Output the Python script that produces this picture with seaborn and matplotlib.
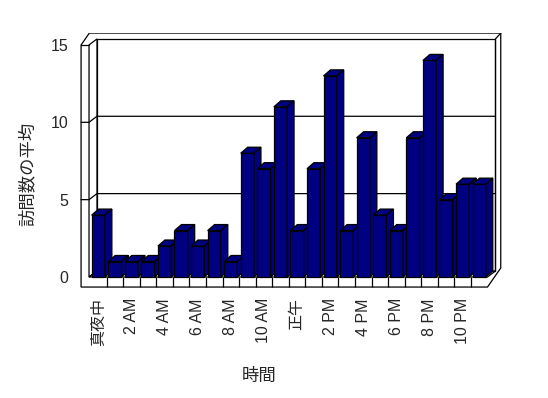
import numpy as np
import seaborn as sns
import matplotlib
matplotlib.use('Agg')
import matplotlib.pyplot as plt
from matplotlib.patches import Polygon

# data
hours = ['真夜中', '1 AM', '2 AM', '3 AM', '4 AM', '5 AM', '6 AM', '7 AM',
         '8 AM', '9 AM', '10 AM', '11 AM', '正午', '1 PM', '2 PM', '3 PM',
         '4 PM', '5 PM', '6 PM', '7 PM', '8 PM', '9 PM', '10 PM', '11 PM']
visits = [4, 1, 1, 1, 2, 3, 2, 3, 1, 8, 7, 11, 3, 7, 13, 3, 9, 4, 3, 9, 14, 5, 6, 6]
y_ticks = [0, 5, 10, 15]
shown_labels = hours[::2]

sns.set_style('white')
plt.rcParams['font.family'] = ['Liberation Sans', 'Noto Sans CJK JP', 'DejaVu Sans']

fig = plt.figure(figsize=(5.48, 3.98), dpi=100)
ax = fig.add_axes([0.1431, 0.2749, 0.7737, 0.6432])

navy = '#000080'
lw = 0.9
sns.barplot(x=hours, y=visits, color=navy, saturation=1, width=0.8,
            edgecolor='black', linewidth=lw, ax=ax)
bars = list(ax.patches)

# fake 3d depth of the bars, built from each bar's own geometry
dx, dy = 0.42, 0.39
for i, p in enumerate(bars):
    x, w, h = p.get_x(), p.get_width(), p.get_height()
    z = 3 + i * 0.01
    p.set_zorder(z)
    top = [(x, h), (x + dx, h + dy), (x + w + dx, h + dy), (x + w, h)]
    side = [(x + w, 0), (x + w + dx, dy), (x + w + dx, h + dy), (x + w, h)]
    for pts in (top, side):
        ax.add_patch(Polygon(pts, closed=True, fc=navy, ec='black', lw=lw, zorder=z))

# walls and floor of the box
n = len(hours)
xo, xi, xr, yb = -1.04, -0.56, n - 0.5, -0.65
dxw, dyw = 0.48, 0.39
ytop = y_ticks[-1]
outer = [(xo, yb), (xo, ytop), (xo + 0.5, ytop + 0.77), (xr + 0.8, ytop + 0.77),
         (xr + 0.8, 0.58), (xr, yb)]
ax.add_patch(Polygon(outer, closed=True, fc='white', ec='black', lw=lw, zorder=1))
back = [(xi + dxw, dyw), (xi + dxw, ytop + dyw), (xr + dxw, ytop + dyw), (xr + dxw, dyw)]
ax.add_patch(Polygon(back, closed=True, fc='white', ec='black', lw=lw, zorder=1.1))
left = [(xi, 0), (xi, ytop), (xi + dxw, ytop + dyw), (xi + dxw, dyw)]
ax.add_patch(Polygon(left, closed=True, fc='white', ec='black', lw=lw, zorder=1.2))
floor = [(xi, 0), (xr, 0), (xr + dxw, dyw), (xi + dxw, dyw)]
ax.add_patch(Polygon(floor, closed=True, fc='white', ec='black', lw=lw, zorder=1.2))
ax.plot([xo, xi], [ytop, ytop], color='black', lw=lw, zorder=1.3)
ax.plot([xr + dxw, xr + 0.8], [ytop + dyw, ytop + 0.77], color='black', lw=lw, zorder=1.3)
ax.plot([xr + dxw, xr + dxw], [dyw, ytop + dyw], color='black', lw=lw, zorder=1.3)

# gridlines on the back wall with their tick marks on the left wall
for v in y_ticks[1:-1]:
    ax.plot([xo, xi, xi + dxw, xr + dxw], [v, v, v + dyw, v + dyw],
            color='black', lw=lw, zorder=1.3)

# separators on the front edge of the floor
ax.vlines(np.arange(n - 1) + 0.5, yb, 0, color='black', lw=lw, zorder=1.3)

ax.set_xlim(-1.2, 24.4)
ax.set_ylim(-0.75, 15.8)
ax.set_xticks(range(0, n, 2))
ax.set_xticklabels(shown_labels, rotation=90, fontsize=11.5)
ax.set_yticks(y_ticks)
ax.set_yticklabels([str(v) for v in y_ticks], fontsize=11.5)
ax.tick_params(axis='x', length=0, pad=6.8)
ax.tick_params(axis='y', length=0, pad=7.5)
for s in ax.spines.values():
    s.set_visible(False)
ax.grid(False)

ax.set_xlabel('時間', fontsize=12.5)
ax.set_ylabel('訪問数の平均', fontsize=12.5)
ax.xaxis.set_label_coords(0.427, -0.31)
ax.yaxis.set_label_coords(-0.10, 0.45)

fig.savefig('out.png', dpi=100)
